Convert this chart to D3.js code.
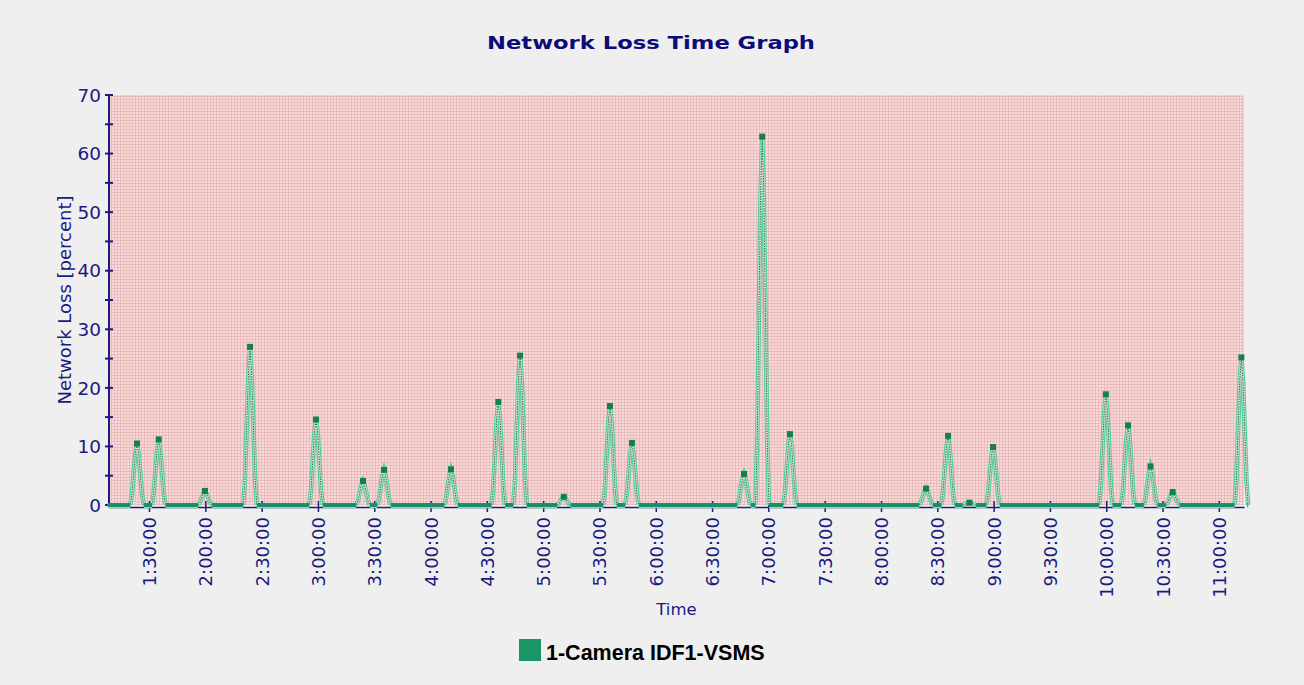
<!DOCTYPE html>
<html><head><meta charset="utf-8">
<script src="https://cdn.jsdelivr.net/npm/d3@7"></script>
<style>html,body{margin:0;padding:0;background:#efefef;} svg{display:block}</style>
</head><body>
<svg id="c" width="1304" height="685"></svg>
<script>
// ---------- data ----------
const chartTitle = "Network Loss Time Graph";
const yTitle = "Network Loss [percent]";
const xTitle = "Time";
const seriesName = "1-Camera IDF1-VSMS";

const domainStart = "1:08:41";
const domainEnd = "11:13:24";
const seriesStart = "1:08:00";
const seriesEnd = "11:15:12";

const yTickValues = [0, 10, 20, 30, 40, 50, 60, 70];
const yMinorTicks = [5, 15, 25, 35, 45, 55, 65];
const xTickLabels = ["1:30:00","2:00:00","2:30:00","3:00:00","3:30:00","4:00:00","4:30:00",
  "5:00:00","5:30:00","6:00:00","6:30:00","7:00:00","7:30:00","8:00:00","8:30:00",
  "9:00:00","9:30:00","10:00:00","10:30:00","11:00:00"];

// centre time of each loss burst
const spikeTimes = ["1:23:36","1:35:10","1:59:50","2:23:50","2:59:00","3:24:00","3:35:12",
  "4:10:54","4:36:06","4:47:42","5:11:00","5:35:36","5:47:18","6:47:00","6:56:42",
  "7:11:30","8:24:00","8:35:42","8:47:06","8:59:42","9:59:48","10:11:36","10:23:36",
  "10:35:24","11:12:00"];
// sample values of each burst (seconds apart = sampleStep)
const sampleStep = 54;
const spikeSamples = [
  [1.8, 5.3, 8.8, 10.5, 8.8, 5.3, 1.8],
  [1.9, 5.6, 9.3, 11.2, 9.3, 5.6, 1.9],
  [0.4, 1.2, 2.0, 2.4, 2.0, 1.2, 0.4],
  [4.4, 13.4, 22.0, 27.0, 22.0, 13.4, 4.4],
  [2.4, 7.3, 12.2, 14.6, 12.2, 7.3, 2.4],
  [0.7, 2.0, 3.4, 4.1, 3.4, 2.0, 0.7],
  [1.0, 3.0, 5.0, 6.0, 5.0, 3.0, 1.0],
  [1.0, 3.0, 5.1, 6.1, 5.1, 3.0, 1.0],
  [2.9, 8.8, 14.7, 17.6, 14.7, 8.8, 2.9],
  [4.3, 12.8, 21.2, 25.5, 21.2, 12.8, 4.3],
  [0.2, 0.7, 1.2, 1.4, 1.2, 0.7, 0.2],
  [2.8, 8.5, 14.1, 16.9, 14.1, 8.5, 2.8],
  [1.8, 5.3, 8.8, 10.6, 8.8, 5.3, 1.8],
  [0.9, 2.7, 4.4, 5.3, 4.4, 2.7, 0.9],
  [10.6, 31.2, 52.4, 62.9, 52.4, 31.2, 10.6],
  [2.0, 6.0, 10.1, 12.1, 10.1, 6.0, 2.0],
  [0.5, 1.4, 2.3, 2.8, 2.3, 1.4, 0.5],
  [2.0, 5.9, 9.8, 11.8, 9.8, 5.9, 2.0],
  [0.1, 0.2, 0.3, 0.4, 0.3, 0.2, 0.1],
  [1.7, 5.0, 8.3, 9.9, 8.3, 5.0, 1.7],
  [3.2, 9.5, 15.8, 18.9, 15.8, 9.5, 3.2],
  [2.3, 6.8, 11.3, 13.6, 11.3, 6.8, 2.3],
  [1.1, 3.3, 5.5, 6.6, 5.5, 3.3, 1.1],
  [0.4, 1.1, 1.8, 2.2, 1.8, 1.1, 0.4],
  [4.2, 12.6, 21.0, 25.2, 21.0, 12.6, 4.2]
];

// ---------- build ----------
const parseT = s => { const [h,m,sec] = s.split(":").map(Number); return new Date(2000,0,1,h,m,sec); };
const addSec = (d, s) => new Date(d.getTime() + s*1000);

const points = [{t: parseT(seriesStart), v: 0}];
spikeTimes.forEach((ts, i) => {
  const c = parseT(ts);
  const samples = [0, ...spikeSamples[i], 0];
  samples.forEach((v, k) => points.push({t: addSec(c, (k - 4) * sampleStep), v, peak: k === 4}));
});
points.push({t: parseT(seriesEnd), v: 0});

// split into flat (zero) runs and burst runs
const flatRuns = [], burstRuns = [];
let cur = null, curFlat = null;
for (let i = 0; i < points.length - 1; i++) {
  const a = points[i], b = points[i+1];
  const flat = a.v === 0 && b.v === 0;
  if (cur && curFlat === flat) { cur.push(b); }
  else { cur = [a, b]; curFlat = flat; (flat ? flatRuns : burstRuns).push(cur); }
}

const svg = d3.select("#c");
const plot = {left: 109, right: 1244, top: 95, bottom: 505};
const navy = "#1a1a80";
const font = "DejaVu Sans, Verdana, sans-serif";

const x = d3.scaleTime().domain([parseT(domainStart), parseT(domainEnd)]).range([plot.left, plot.right]);
const y = d3.scaleLinear().domain([0, 70]).range([plot.bottom, plot.top]);

// pattern background
const defs = svg.append("defs");
const pat = defs.append("pattern").attr("id","dots").attr("width",3).attr("height",3).attr("patternUnits","userSpaceOnUse");
pat.append("rect").attr("width",3).attr("height",1).attr("fill","#ecbcbc");
pat.append("rect").attr("width",1).attr("height",3).attr("fill","#ecbcbc");

svg.append("rect").attr("x", plot.left).attr("y", plot.top)
  .attr("width", plot.right - plot.left).attr("height", plot.bottom - plot.top)
  .attr("fill", "#f8dcdc");
svg.append("rect").attr("x", plot.left).attr("y", plot.top)
  .attr("width", plot.right - plot.left).attr("height", plot.bottom - plot.top)
  .attr("fill", "url(#dots)").attr("shape-rendering","crispEdges");

// title
svg.append("text").attr("x", 651).attr("y", 49).attr("text-anchor","middle")
  .attr("font-family",font).attr("font-weight","bold")
  .attr("font-size",17.5).attr("fill", "#0c0c78")
  .attr("textLength", 328).attr("lengthAdjust","spacingAndGlyphs")
  .text(chartTitle);

// y axis
const yAxisG = svg.append("g").attr("transform", `translate(${plot.left},0)`);
yAxisG.append("line").attr("x1",0).attr("x2",0).attr("y1",plot.top).attr("y2",plot.bottom+2)
  .attr("stroke",navy).attr("stroke-width",2);
yAxisG.selectAll("line.tk").data(yTickValues.concat(yMinorTicks)).join("line").attr("class","tk")
  .attr("x1",-4).attr("x2",4).attr("y1",d=>y(d)).attr("y2",d=>y(d))
  .attr("stroke",navy).attr("stroke-width",2);
yAxisG.selectAll("text").data(yTickValues).join("text")
  .attr("x",-8).attr("y",d=>y(d)).attr("dy","0.36em").attr("text-anchor","end")
  .attr("font-family",font).attr("font-size",18.5).attr("fill",navy)
  .text(d=>d);

svg.append("text").attr("transform", `translate(71,${(plot.top+plot.bottom)/2}) rotate(-90)`)
  .attr("text-anchor","middle").attr("font-family",font)
  .attr("font-size",18).attr("fill",navy).text(yTitle);

// x axis
const xTickDates = xTickLabels.map(parseT);
const xAxis = d3.axisBottom(x).tickValues(xTickDates).tickSize(0)
  .tickFormat((d,i) => xTickLabels[i]);
const xAxisG = svg.append("g").attr("transform", `translate(0,${plot.bottom+2})`).call(xAxis);
xAxisG.select(".domain").attr("stroke",navy).attr("stroke-width",1.5);
xAxisG.selectAll(".tick").append("line").attr("y1",-6).attr("y2",5).attr("stroke",navy).attr("stroke-width",1.5);
xAxisG.selectAll(".tick text")
  .attr("transform","rotate(-90)").attr("x",-10).attr("y",0).attr("dy","0.36em")
  .attr("text-anchor","end").attr("font-family",font)
  .attr("font-size",18).attr("fill",navy);

svg.append("text").attr("x",(plot.left+plot.right)/2).attr("y",615).attr("text-anchor","middle")
  .attr("font-family",font).attr("font-size",16.5).attr("fill",navy)
  .text(xTitle);

// series line
const line = d3.line().x(d=>x(d.t)).y(d=>y(d.v));
const burstG = svg.append("g");
burstRuns.forEach(run => {
  burstG.append("path").datum(run).attr("d",line).attr("fill","none")
    .attr("stroke","#4fd3a0").attr("stroke-width",4.6).attr("stroke-linejoin","miter");
  burstG.append("path").datum(run).attr("d",line).attr("fill","none")
    .attr("stroke","#f4dada").attr("stroke-width",2.2).attr("stroke-linejoin","miter");
  burstG.append("path").datum(run).attr("d",line).attr("fill","none")
    .attr("stroke","#1f7f52").attr("stroke-width",1.1).attr("stroke-dasharray","1.5,1");
});
const flatG = svg.append("g");
flatRuns.forEach(run => {
  flatG.append("path").datum(run).attr("d",line).attr("fill","none")
    .attr("stroke","#7fe0bc").attr("stroke-width",5).attr("transform","translate(0,0.8)");
  flatG.append("path").datum(run).attr("d",line).attr("fill","none")
    .attr("stroke","#1a9060").attr("stroke-width",4);
});

svg.selectAll("rect.mk").data(points.filter(d=>d.peak)).join("rect").attr("class","mk")
  .attr("x",d=>x(d.t)-3).attr("y",d=>y(d.v)-3).attr("width",6).attr("height",6)
  .attr("fill","#15804f");

// legend
svg.append("rect").attr("x",519).attr("y",639).attr("width",22).attr("height",22).attr("fill","#199566");
svg.append("text").attr("x",546).attr("y",660).attr("font-family","Liberation Sans, Arial, sans-serif")
  .attr("font-weight","bold").attr("font-size",21.5).attr("fill","#000").text(seriesName);
</script>
</body></html>
